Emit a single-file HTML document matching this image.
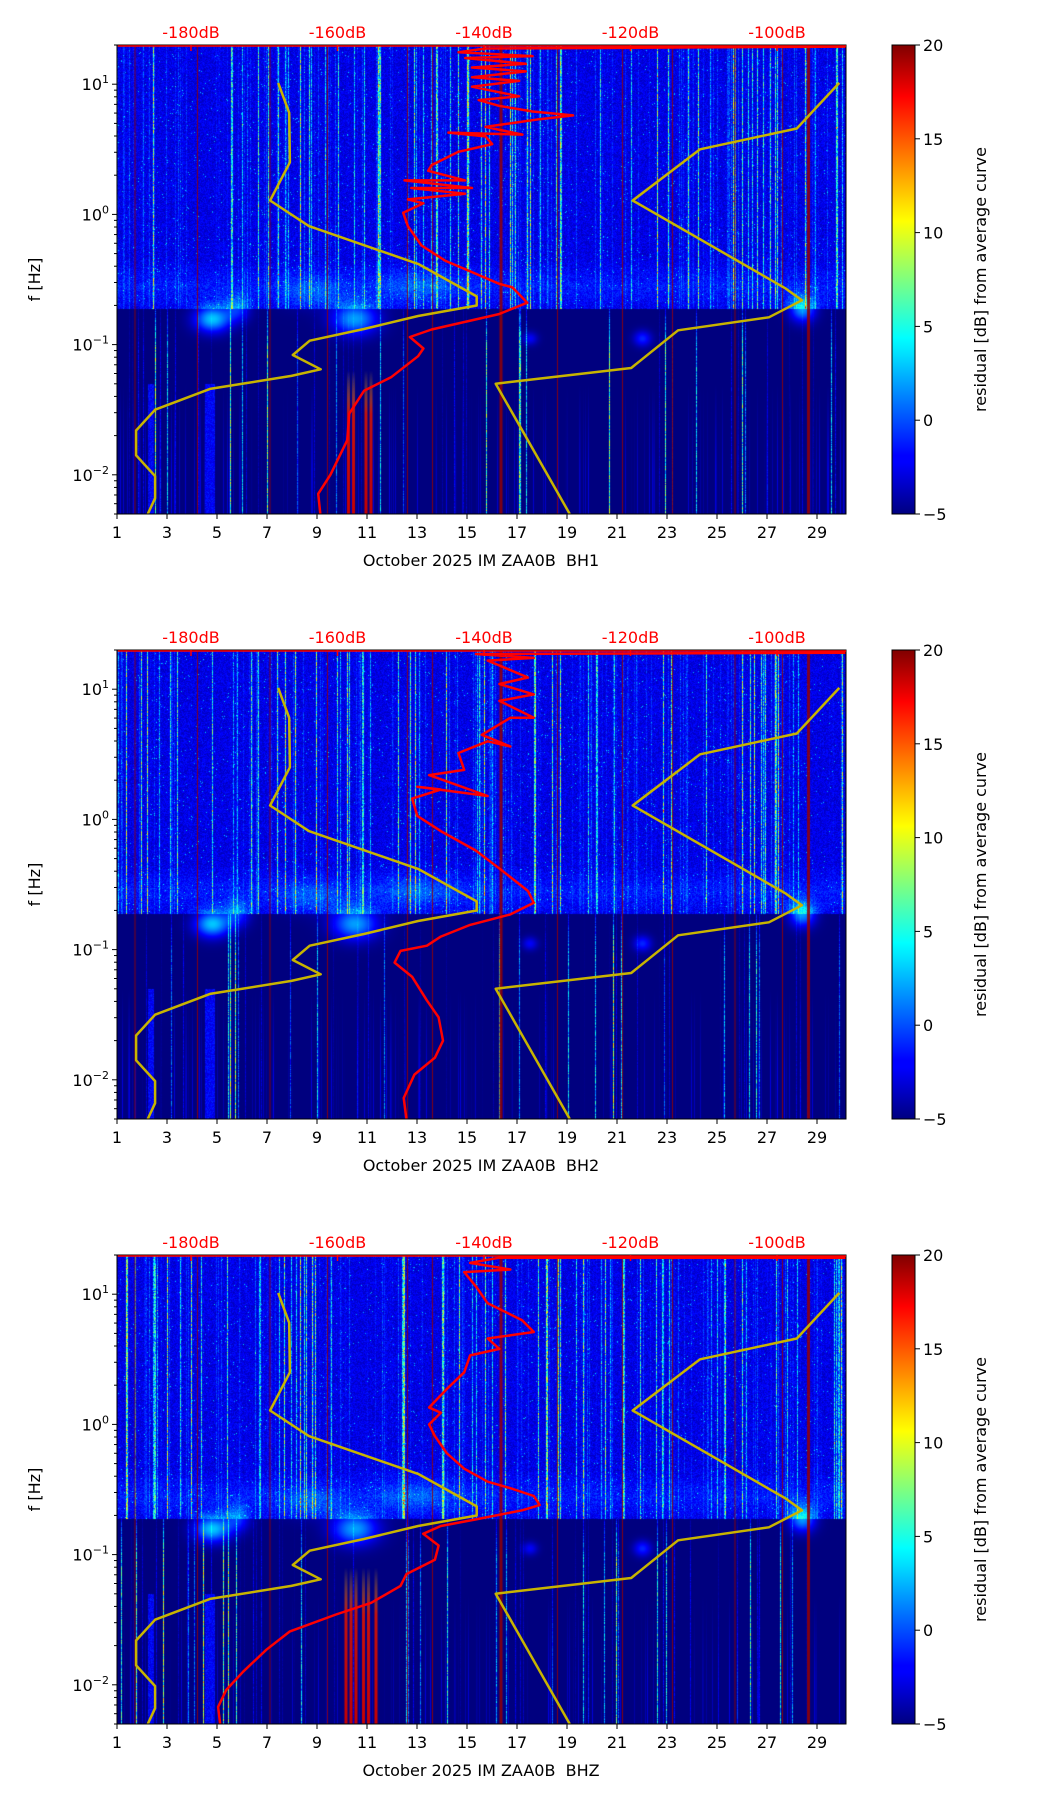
<!DOCTYPE html>
<html><head><meta charset="utf-8">
<style>
body{margin:0;background:#fff;width:1052px;height:1806px;overflow:hidden;font-family:"DejaVu Sans","Liberation Sans",sans-serif;}
#wrap{position:relative;width:1052px;height:1806px;}
canvas{position:absolute;}
svg{position:absolute;left:0;top:0;}
</style></head>
<body>
<div id="wrap">
<canvas id="c0" width="729" height="469" style="left:117px;top:45px"></canvas>
<canvas id="c1" width="729" height="469" style="left:117px;top:650px"></canvas>
<canvas id="c2" width="729" height="469" style="left:117px;top:1255px"></canvas>
<svg id="svg" width="1052" height="1806" xmlns="http://www.w3.org/2000/svg"></svg>
</div>
<script>
// ---- data ----
const channels = ["BH1","BH2","BHZ"];
const dayTicks = [1,3,5,7,9,11,13,15,17,19,21,23,25,27,29];
const dbTicks = [-180,-160,-140,-120,-100];
const cbTicks = [-5,0,5,10,15,20];
const yDecades = [-2,-1,0,1];
const nlnmDb = [-168.1,-166.6,-166.5,-169.2,-163.9,-149.0,-141.0,-141.0,-149.0,-156.4,-163.8,-166.1,-162.3,-166.3,-177.4,-184.9,-187.5,-187.5,-184.9,-184.9,-185.9];
const nlnmLogF = [1.01,0.78,0.40,0.107,-0.09,-0.38,-0.63,-0.70,-0.78,-0.88,-0.97,-1.08,-1.19,-1.24,-1.34,-1.50,-1.66,-1.85,-2.01,-2.18,-2.30];
const nhnmDb = [-91.5,-97.3,-110.5,-119.7,-98.8,-96.6,-101.1,-113.5,-119.9,-138.4,-128.3];
const nhnmLogF = [1.01,0.66,0.50,0.107,-0.57,-0.66,-0.79,-0.89,-1.18,-1.30,-2.30];
const psd1Db = [-162.35,-162.63,-160.97,-158.67,-158.39,-156.37,-152.69,-149.0,-148.27,-150.11,-147.16,-137.96,-134.09,-136.12,-137.96,-141.64,-145.32,-148.55,-150.39,-151.03,-148.27,-150.39,-142.56,-149.93,-141.64,-150.85,-142.56,-147.62,-147.16,-143.48,-138.88,-139.8,-144.86,-134.74,-139.8,-132.44,-127.84,-133.36,-137.96,-140.72,-135.2,-141.64,-135.2,-141.64,-134.28,-141.64,-134.28,-142.56,-133.36,-143.48,-139.8,-90.1];
const psd1LogF = [-2.299,-2.146,-2.0,-1.735,-1.53,-1.354,-1.251,-1.089,-1.03,-0.942,-0.884,-0.766,-0.678,-0.561,-0.532,-0.443,-0.355,-0.238,-0.091,0.012,0.085,0.115,0.159,0.203,0.203,0.261,0.261,0.335,0.379,0.481,0.54,0.599,0.628,0.613,0.672,0.731,0.76,0.79,0.834,0.878,0.907,0.981,1.025,1.054,1.098,1.128,1.157,1.201,1.216,1.245,1.274,1.289];
const psd2Db = [-150.6,-150.96,-149.5,-146.7,-145.6,-146.2,-147.8,-149.8,-152.2,-151.4,-147.8,-145.9,-141.9,-136.4,-133.2,-134.0,-137.6,-141.1,-145.9,-149.1,-149.8,-145.9,-149.1,-139.5,-147.5,-142.7,-143.5,-139.5,-136.4,-140.3,-136.4,-133.2,-137.9,-133.2,-137.9,-134.0,-139.5,-133.2,-141.1,-89.7];
const psd2LogF = [-2.30,-2.14,-1.96,-1.83,-1.70,-1.52,-1.39,-1.21,-1.10,-1.01,-0.97,-0.90,-0.81,-0.73,-0.64,-0.55,-0.39,-0.24,-0.09,0.027,0.16,0.23,0.25,0.18,0.34,0.38,0.51,0.60,0.56,0.65,0.78,0.78,0.91,0.96,1.04,1.09,1.22,1.24,1.27,1.28];
const psd3Db = [-176.0,-176.3,-175.2,-172.9,-169.7,-166.5,-160.2,-155.4,-151.4,-150.6,-146.7,-146.2,-148.3,-145.9,-141.1,-134.8,-132.4,-133.2,-136.4,-139.5,-142.7,-145.1,-146.7,-147.5,-145.9,-147.5,-145.1,-142.7,-141.9,-137.9,-139.5,-133.2,-134.8,-139.5,-141.1,-142.7,-136.4,-141.9,-137.9,-89.7];
const psd3LogF = [-2.31,-2.17,-2.04,-1.90,-1.73,-1.59,-1.46,-1.37,-1.24,-1.15,-1.04,-0.93,-0.84,-0.78,-0.73,-0.66,-0.62,-0.55,-0.49,-0.44,-0.34,-0.22,-0.09,0.0,0.09,0.13,0.27,0.40,0.53,0.58,0.66,0.71,0.80,0.93,1.06,1.17,1.19,1.24,1.28,1.28];
const psdDb = [psd1Db, psd2Db, psd3Db];
const psdLogF = [psd1LogF, psd2LogF, psd3LogF];
const redLineDays = [1.7,4.2,7.1,9.4,12.6,13.6,16.3,18.6,21.2,23.2,25.7,27.6,28.6];

// ---- layout ----
const L=117,R=846,H=469,tops=[45,650,1255];
const DAY0=1, DAY1=1+(R-L)/25;
const LOGTOP=Math.log10(20), LOGBOT=Math.log10(0.005);
const xDay=d=>L+(d-DAY0)/(DAY1-DAY0)*(R-L);
const xDb=db=>191+(db+180)*7.325;
const yLog=(T,lf)=>T+(LOGTOP-lf)/(LOGTOP-LOGBOT)*H;
const NS="http://www.w3.org/2000/svg";
const svg=document.getElementById('svg');
function mk(tag,attrs,parent){const e=document.createElementNS(NS,tag);for(const k in attrs)e.setAttribute(k,attrs[k]);(parent||svg).appendChild(e);return e;}

function jet(t){t=Math.max(0,Math.min(1,t));
 const r=Math.max(0,Math.min(1,1.5-Math.abs(4*t-3))),g=Math.max(0,Math.min(1,1.5-Math.abs(4*t-2))),b=Math.max(0,Math.min(1,1.5-Math.abs(4*t-1)));
 return [r*255|0,g*255|0,b*255|0];}
function rng(seed){let s=seed;return ()=>{s=(s*1664525+1013904223)>>>0;return s/4294967296;};}

// ---- background texture ----
function drawTexture(p){
 const cv=document.getElementById('c'+p),ctx=cv.getContext('2d');
 const W=729,img=ctx.createImageData(W,H),d=img.data,rnd=rng(17+p*101);
 const colU=[],colL=[],colLow=[];
 for(let x=0;x<W;x++){
  const r=rnd();
  colU.push(r<0.08?5+rnd()*7:(r<0.25?rnd()*3:0));
  const r2=rnd();
  colL.push(r2<0.025?6+rnd()*12:(r2<0.08?rnd()*4:0));
  colLow.push(rnd()<0.15?rnd()*2.5:0);
 }
 const blobs=[[4.8,-0.8,0.7,0.1,8],[5.8,-0.72,0.5,0.1,4],[10.5,-0.8,0.9,0.12,7],[28.4,-0.72,0.5,0.1,7],[13.0,-0.55,1.5,0.12,2],[8.8,-0.6,1.2,0.12,2],[22,-0.95,0.35,0.06,4],[17.5,-0.95,0.3,0.05,3]];
 for(let y=0;y<H;y++){
  const lf=LOGTOP-(y/H)*(LOGTOP-LOGBOT);
  for(let x=0;x<W;x++){
   const day=DAY0+x/25; let v;
   if(lf>-0.72){v=-3.6+rnd()*2.2+colU[x]*(0.3+rnd()*1.0); if(rnd()<0.01)v+=5;
     if(lf<-0.35) v+=1.2*(1-Math.abs(lf+0.55)/0.2);}
   else {v=-5+colL[x]*(0.4+0.6*rnd())*Math.min(1,(-0.7-lf)*2+0.3);
     const f=Math.max(0,Math.min(1,(-1.3-lf)*1.5)); v+=colLow[x]*f;}
   if(lf<-1.3 && ((day>2.2&&day<2.45)||(day>4.5&&day<4.9))) v=Math.max(v,-3+rnd()*2);
   for(const b of blobs){const dx=(day-b[0])/b[2],dy=(lf-b[1])/b[3];v+=b[4]*Math.exp(-(dx*dx+dy*dy));}
   const c=jet((v+5)/25),i=(y*W+x)*4;d[i]=c[0];d[i+1]=c[1];d[i+2]=c[2];d[i+3]=255;
  }
 }
 ctx.putImageData(img,0,0);
 ctx.fillStyle='rgba(150,0,0,0.85)';
 for(const dd of redLineDays){const w=(dd===16.3||dd===28.6)?3:1;ctx.fillRect(xDay(dd)-L,0,w,H);}
 if(p!==1){
  const y0=yLog(0,p===0?-1.2:-1.1);
  const cols=p===0?[10.2,10.4,10.9,11.1]:[10.1,10.3,10.5,10.8,11.0,11.3];
  for(const dd of cols){const x=xDay(dd)-L;
   const g=ctx.createLinearGradient(0,y0,0,H);g.addColorStop(0,'rgba(255,200,0,0)');g.addColorStop(0.3,'rgba(220,20,0,0.9)');g.addColorStop(1,'rgba(200,0,0,1)');
   ctx.fillStyle=g;ctx.fillRect(x,y0,3,H-y0);}
 }
}
for(let p=0;p<3;p++)drawTexture(p);

// ---- axes & overlays ----
function line(xs,ys,color,w,name,parent){
 const pts=xs.map((v,i)=>v.toFixed(1)+','+ys[i].toFixed(1)).join(' ');
 const e=mk('polyline',{points:pts,fill:'none',stroke:color,'stroke-width':w,'stroke-linejoin':'round'},parent);
 
 
}
for(let p=0;p<3;p++){
 const T=tops[p],g=mk('g',{});
 
 
 const clip=mk('clipPath',{id:'clip'+p},g);mk('rect',{x:L,y:T,width:R-L,height:H},clip);
 const lg=mk('g',{'clip-path':'url(#clip'+p+')'},g);
 const yl=(arr)=>arr.map(v=>yLog(T,v));
 line(nlnmDb.map(xDb),yl(nlnmLogF),'#c8b400',2.5,'low-noise-model',lg);
 line(nhnmDb.map(xDb),yl(nhnmLogF),'#c8b400',2.5,'high-noise-model',lg);
 line(psdDb[p].map(xDb),yl(psdLogF[p]),'#ff0000',2.5,'psd-curve',lg);
 const fr=mk('rect',{x:L,y:T,width:R-L,height:H,fill:'none',stroke:'#000','stroke-width':1},g);
 
 for(const dd of dayTicks){const x=xDay(dd);mk('line',{x1:x,x2:x,y1:T+H,y2:T+H+5,stroke:'#000'},g);
  const t=mk('text',{x:x,y:T+H+24,'font-size':16,'text-anchor':'middle'},g);t.textContent=dd;
  }
 const xl=mk('text',{x:481,y:T+H+52,'font-size':16,'text-anchor':'middle','xml:space':'preserve'},g);xl.textContent='October 2025 IM ZAA0B\u00a0\u00a0'+channels[p];
 
 for(const db of dbTicks){const x=xDb(db);mk('line',{x1:x,x2:x,y1:T,y2:T+6,stroke:'#f00','stroke-width':1.5},g);
  const t=mk('text',{x:x,y:T-7,'font-size':16,fill:'#f00','text-anchor':'middle'},g);t.textContent=db+'dB';
  }
 mk('line',{x1:xDb(-190),x2:R,y1:T+1,y2:T+1,stroke:'#f00','stroke-width':1.5},g);
 for(let dec=-3;dec<=1;dec++){for(let m=1;m<10;m++){const lf=dec+Math.log10(m);if(lf>LOGTOP||lf<LOGBOT)continue;const y=yLog(T,lf);
   mk('line',{x1:L-(m===1?5:3),x2:L,y1:y,y2:y,stroke:'#000'},g);}}
 for(const dec of yDecades){const y=yLog(T,dec);const t=mk('text',{x:L-8,y:y+6,'font-size':16,'text-anchor':'end'},g);
  
  const a=mk('tspan',{},t);a.textContent='10';const b=mk('tspan',{dy:-7,'font-size':11},t);b.textContent=dec<0?'\u2212'+(-dec):String(dec);}
 const ylab=mk('text',{x:0,y:0,'font-size':16,'text-anchor':'middle',transform:'translate(40,'+(T+H/2)+') rotate(-90)'},g);ylab.textContent='f [Hz]';
 
 const defs=mk('linearGradient',{id:'jet'+p,x1:0,y1:1,x2:0,y2:0},g);
 [[0,'#000080'],[0.11,'#0000ff'],[0.125,'#0000ff'],[0.34,'#00dfff'],[0.375,'#00ffff'],[0.5,'#7fff7f'],[0.625,'#ffff00'],[0.66,'#ffdf00'],[0.89,'#ff0000'],[1,'#800000']].forEach(s=>mk('stop',{offset:s[0],'stop-color':s[1]},defs));
 const cb=mk('rect',{x:892,y:T,width:23,height:H,fill:'url(#jet'+p+')',stroke:'#000'},g);
 
 for(const v of cbTicks){const y=T+(20-v)/25*H;mk('line',{x1:915,x2:920,y1:y,y2:y,stroke:'#000'},g);
  const t=mk('text',{x:923,y:y+6,'font-size':16},g);t.textContent=v<0?'\u2212'+(-v):v;
  }
 const cl=mk('text',{x:0,y:0,'font-size':16,'text-anchor':'middle',transform:'translate(986,'+(T+H/2)+') rotate(-90)'},g);cl.textContent='residual [dB] from average curve';
 
}
</script>
</body></html>
